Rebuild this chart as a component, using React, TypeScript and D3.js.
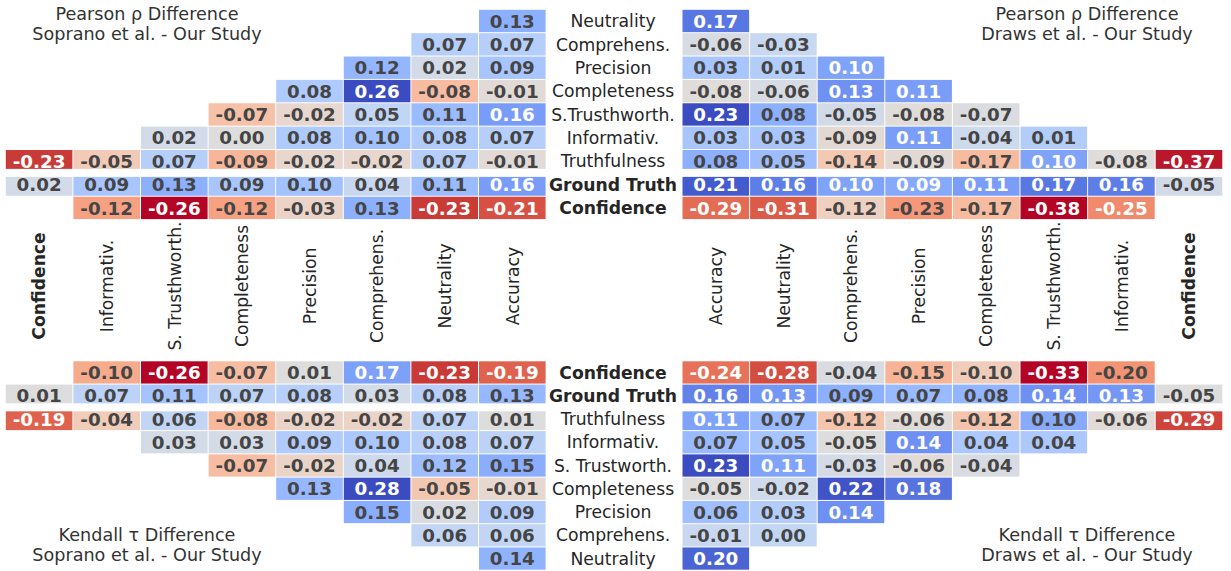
import React from 'react'
import * as d3 from 'd3'

const W = 1231
const H = 571

// column order (as drawn on the right side; the left side is mirrored)
const cols = [
  'Accuracy',
  'Neutrality',
  'Comprehens.',
  'Precision',
  'Completeness',
  'S. Trusthworth.',
  'Informativ.',
  'Confidence',
]

const topRows = [
  'Neutrality',
  'Comprehens.',
  'Precision',
  'Completeness',
  'S.Trusthworth.',
  'Informativ.',
  'Truthfulness',
  'Ground Truth',
  'Confidence',
]

const bottomRows = [
  'Confidence',
  'Ground Truth',
  'Truthfulness',
  'Informativ.',
  'S. Trustworth.',
  'Completeness',
  'Precision',
  'Comprehens.',
  'Neutrality',
]

const boldLabels = ['Ground Truth', 'Confidence']

// values per row, in `cols` order, null = empty cell
const sopranoPearson = [
  [0.13],
  [0.07, 0.07],
  [0.09, 0.02, 0.12],
  [-0.01, -0.08, 0.26, 0.08],
  [0.16, 0.11, 0.05, -0.02, -0.07],
  [0.07, 0.08, 0.1, 0.08, 0.0, 0.02],
  [-0.01, 0.07, -0.02, -0.02, -0.09, 0.07, -0.05, -0.23],
  [0.16, 0.11, 0.04, 0.1, 0.09, 0.13, 0.09, 0.02],
  [-0.21, -0.23, 0.13, -0.03, -0.12, -0.26, -0.12, null],
]

const drawsPearson = [
  [0.17],
  [-0.06, -0.03],
  [0.03, 0.01, 0.1],
  [-0.08, -0.06, 0.13, 0.11],
  [0.23, 0.08, -0.05, -0.08, -0.07],
  [0.03, 0.03, -0.09, 0.11, -0.04, 0.01],
  [0.08, 0.05, -0.14, -0.09, -0.17, 0.1, -0.08, -0.37],
  [0.21, 0.16, 0.1, 0.09, 0.11, 0.17, 0.16, -0.05],
  [-0.29, -0.31, -0.12, -0.23, -0.17, -0.38, -0.25, null],
]

const sopranoKendall = [
  [-0.19, -0.23, 0.17, 0.01, -0.07, -0.26, -0.1, null],
  [0.13, 0.08, 0.03, 0.08, 0.07, 0.11, 0.07, 0.01],
  [0.01, 0.07, -0.02, -0.02, -0.08, 0.06, -0.04, -0.19],
  [0.07, 0.08, 0.1, 0.09, 0.03, 0.03],
  [0.15, 0.12, 0.04, -0.02, -0.07],
  [-0.01, -0.05, 0.28, 0.13],
  [0.09, 0.02, 0.15],
  [0.06, 0.06],
  [0.14],
]

const drawsKendall = [
  [-0.24, -0.28, -0.04, -0.15, -0.1, -0.33, -0.2, null],
  [0.16, 0.13, 0.09, 0.07, 0.08, 0.14, 0.13, -0.05],
  [0.11, 0.07, -0.12, -0.06, -0.12, 0.1, -0.06, -0.29],
  [0.07, 0.05, -0.05, 0.14, 0.04, 0.04],
  [0.23, 0.11, -0.03, -0.06, -0.04],
  [-0.05, -0.02, 0.22, 0.18],
  [0.06, 0.03, 0.14],
  [-0.01, 0.0],
  [0.2],
]

// matplotlib coolwarm (Moreland table)
const coolwarm = [
  [59, 76, 192], [68, 90, 204], [77, 104, 215], [87, 117, 225], [98, 130, 234],
  [108, 142, 241], [119, 154, 247], [130, 165, 251], [141, 176, 254], [152, 185, 255],
  [163, 194, 255], [174, 201, 253], [184, 208, 249], [194, 213, 244], [204, 217, 238],
  [213, 219, 230], [221, 221, 221], [229, 216, 209], [236, 211, 197], [241, 204, 185],
  [245, 196, 173], [247, 187, 160], [247, 177, 148], [247, 166, 135], [244, 154, 123],
  [241, 141, 111], [236, 127, 99], [229, 112, 88], [222, 96, 77], [213, 80, 66],
  [203, 62, 56], [192, 40, 47], [180, 4, 38],
].map(([r, g, b]) => d3.rgb(r, g, b).formatHex())

const cmap = d3
  .scaleLinear<string>()
  .domain(coolwarm.map((_, i) => i / (coolwarm.length - 1)))
  .range(coolwarm)
  .interpolate(d3.interpolateRgb)
  .clamp(true)

const lin = (c: number) => {
  const v = c / 255
  return v <= 0.03928 ? v / 12.92 : Math.pow((v + 0.055) / 1.055, 2.4)
}
const luminance = (hex: string) => {
  const c = d3.rgb(hex)
  return 0.2126 * lin(c.r) + 0.7152 * lin(c.g) + 0.0722 * lin(c.b)
}

const fmt = (v: number) => v.toFixed(2)
const FONT = 'DejaVu Sans'

type Block = {
  key: string
  data: (number | null)[][]
  rows: string[]
  x: d3.ScaleBand<string>
  y: d3.ScaleBand<string>
  gapAfter: string
  title: string[]
  titleX: number
  titleY: number
}

const xLeft = d3.scaleBand().domain([...cols].reverse()).range([5.3, 546.1])
const xRight = d3.scaleBand().domain(cols).range([682, 1222.8])
const yTop = d3.scaleBand().domain(topRows).range([9.3, 219.6])
const yBottom = d3.scaleBand().domain(bottomRows).range([360.8, 570.2])

const blocks: Block[] = [
  { key: 'tl', data: sopranoPearson, rows: topRows, x: xLeft, y: yTop, gapAfter: 'Truthfulness',
    title: ['Pearson ρ Difference', 'Soprano et al. - Our Study'], titleX: 147, titleY: 20 },
  { key: 'tr', data: drawsPearson, rows: topRows, x: xRight, y: yTop, gapAfter: 'Truthfulness',
    title: ['Pearson ρ Difference', 'Draws et al. - Our Study'], titleX: 1087, titleY: 20 },
  { key: 'bl', data: sopranoKendall, rows: bottomRows, x: xLeft, y: yBottom, gapAfter: 'Ground Truth',
    title: ['Kendall τ Difference', 'Soprano et al. - Our Study'], titleX: 147, titleY: 541 },
  { key: 'br', data: drawsKendall, rows: bottomRows, x: xRight, y: yBottom, gapAfter: 'Ground Truth',
    title: ['Kendall τ Difference', 'Draws et al. - Our Study'], titleX: 1087, titleY: 541 },
]

const HeatBlock = ({ b }: { b: Block }) => {
  const all = b.data.flat().filter((v): v is number => v != null)
  const vmin = d3.min(all) as number
  const vmax = d3.max(all) as number
  // coolwarm reversed: high values blue
  const norm = d3.scaleLinear().domain([vmin, vmax]).range([1, 0])
  const bw = b.x.bandwidth()
  const bh = b.y.bandwidth()
  const cells: { r: string; c: string; v: number }[] = []
  b.data.forEach((row, i) =>
    row.forEach((v, j) => {
      if (v != null) cells.push({ r: b.rows[i], c: cols[j], v })
    })
  )
  const gapY = (b.y(b.gapAfter) as number) + bh
  const [x0, x1] = b.x.range()
  return (
    <g>
      {cells.map((d) => {
        const fill = cmap(norm(d.v))
        const txt = luminance(fill) > 0.408 ? '#454545' : '#ffffff'
        const cx = (b.x(d.c) as number) + bw / 2
        const cy = (b.y(d.r) as number) + bh / 2
        return (
          <g key={d.r + d.c}>
            <rect
              x={(b.x(d.c) as number) + 0.5}
              y={(b.y(d.r) as number) + 0.5}
              width={bw - 1}
              height={bh - 1}
              fill={fill}
            />
            <text
              x={cx}
              y={cy}
              dy="0.36em"
              textAnchor="middle"
              fontFamily={FONT}
              fontWeight="bold"
              fontSize={18.3}
              fill={txt}
            >
              {fmt(d.v)}
            </text>
          </g>
        )
      })}
      <rect x={x0 - 1} y={gapY - 4} width={x1 - x0 + 2} height={8} fill="#fff" />
      {b.title.map((t, i) => (
        <text
          key={t}
          x={b.titleX}
          y={b.titleY + i * 20}
          textAnchor="middle"
          fontFamily={FONT}
          fontSize={17.6}
          fill="#333"
        >
          {t}
        </text>
      ))}
    </g>
  )
}

const App = () => {
  const labelX = 613
  return (
    <svg
      width={W}
      height={H}
      style={{ position: 'absolute', left: 0, top: 0, background: '#fff' }}
    >
      {blocks.map((b) => (
        <HeatBlock key={b.key} b={b} />
      ))}
      {topRows.map((r) => (
        <text
          key={'t' + r}
          x={labelX}
          y={(yTop(r) as number) + yTop.bandwidth() / 2}
          dy="0.36em"
          textAnchor="middle"
          fontFamily={FONT}
          fontSize={17.2}
          fontWeight={boldLabels.includes(r) ? 'bold' : 'normal'}
          fill="#262626"
        >
          {r}
        </text>
      ))}
      {bottomRows.map((r) => (
        <text
          key={'b' + r}
          x={labelX}
          y={(yBottom(r) as number) + yBottom.bandwidth() / 2}
          dy="0.36em"
          textAnchor="middle"
          fontFamily={FONT}
          fontSize={17.2}
          fontWeight={boldLabels.includes(r) ? 'bold' : 'normal'}
          fill="#262626"
        >
          {r}
        </text>
      ))}
      {[xLeft, xRight].map((xs, k) =>
        cols.map((c) => {
          const cx = (xs(c) as number) + xs.bandwidth() / 2
          return (
            <text
              key={k + c}
              transform={`translate(${cx},286) rotate(-90)`}
              dy="0.36em"
              textAnchor="middle"
              fontFamily={FONT}
              fontSize={17.2}
              fontWeight={c === 'Confidence' ? 'bold' : 'normal'}
              fill="#262626"
            >
              {c}
            </text>
          )
        })
      )}
    </svg>
  )
}

export default App
